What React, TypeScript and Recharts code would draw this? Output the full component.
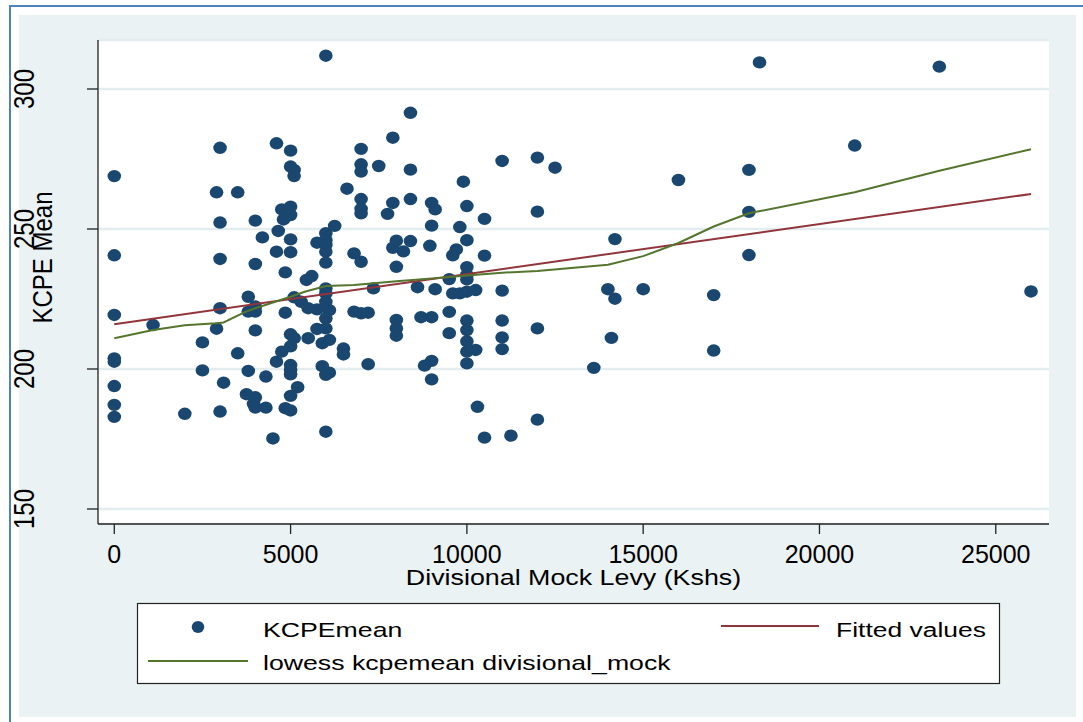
import React from 'react';
import { ScatterChart, Scatter, XAxis, YAxis, CartesianGrid } from 'recharts';

// KCPE mean vs divisional mock levy (one line per group of x values)
const kcpeX = [
  0, 0, 0, 0, 0, 0, 0, 0,
  1100, 2000, 2500, 2500, 2900, 2900,
  3000, 3000, 3000, 3000, 3000, 3100, 3500, 3500,
  3750, 3800, 3800, 3800, 3950,
  4000, 4000, 4000, 4000, 4000, 4000, 4000,
  4200, 4300, 4300, 4500, 4600, 4600, 4600, 4650,
  4750, 4750, 4800, 4850, 4850, 4850,
  5000, 5000, 5000, 5000, 5000, 5000, 5000, 5000, 5000, 5000, 5000, 5000, 5000,
  5100, 5100, 5100, 5100, 5200, 5300, 5450,
  5500, 5500, 5600, 5750, 5750, 5750, 5900, 5900,
  6000, 6000, 6000, 6000, 6000, 6000, 6000, 6000, 6000, 6000, 6000, 6000, 6000,
  6100, 6100, 6100, 6250, 6500, 6500, 6600, 6800, 6800,
  7000, 7000, 7000, 7000, 7000, 7000, 7000, 7000,
  7200, 7200, 7350, 7500, 7750, 7900, 7900, 7900,
  8000, 8000, 8000, 8000, 8000, 8200,
  8400, 8400, 8400, 8400, 8600, 8700, 8800, 8950,
  9000, 9000, 9000, 9000, 9000, 9100, 9100,
  9500, 9500, 9500, 9600, 9600, 9700, 9800, 9800, 9900,
  10000, 10000, 10000, 10000, 10000, 10000, 10000, 10000, 10000, 10000, 10000,
  10250, 10250, 10300, 10500, 10500, 10500,
  11000, 11000, 11000, 11000, 11000, 11250,
  12000, 12000, 12000, 12000, 12500, 13600, 14000, 14100, 14200, 14200,
  15000, 16000, 17000, 17000, 18000, 18000, 18000, 18300, 21000, 23400, 26000,
];
const kcpeY = [
  268.9, 240.6, 219.3, 203.8, 202.6, 193.9, 187.2, 182.9,
  215.7, 184.0, 209.5, 199.5, 263.1, 214.4,
  279.0, 252.3, 239.3, 221.7, 184.8, 195.1, 263.1, 205.6,
  191.0, 225.8, 220.5, 199.3, 187.5,
  253.0, 237.5, 222.3, 220.5, 213.8, 189.9, 186.2,
  247.0, 197.3, 186.2, 175.2, 280.6, 241.9, 202.6, 249.3,
  257.0, 206.2, 253.4, 234.5, 220.1, 186.0,
  278.0, 272.3, 258.0, 255.0, 246.3, 241.7, 212.4, 208.1, 201.4, 199.6, 198.1, 190.4, 185.2,
  271.1, 268.9, 225.6, 211.0, 193.5, 224.0, 231.8,
  221.7, 211.0, 233.2, 245.1, 221.3, 214.3, 209.2, 201.0,
  311.9, 248.5, 246.0, 244.3, 241.9, 238.0, 228.8, 227.0, 224.0, 218.1, 214.5, 197.9, 177.6,
  221.0, 210.4, 198.7, 251.1, 207.3, 205.2, 264.4, 241.3, 220.5,
  278.6, 273.1, 270.5, 260.7, 257.2, 255.6, 238.3, 219.9,
  220.1, 201.7, 228.8, 272.5, 255.4, 282.6, 259.3, 243.3,
  245.8, 236.5, 217.5, 214.5, 211.9, 242.0,
  291.5, 271.2, 260.7, 245.7, 229.2, 218.5, 201.2, 244.0,
  259.3, 251.2, 218.5, 202.9, 196.3, 257.0, 228.5,
  232.1, 220.4, 212.8, 240.6, 227.0, 242.7, 250.7, 227.0, 266.9,
  258.2, 246.0, 236.4, 233.6, 232.0, 227.6, 217.3, 213.9, 209.9, 206.2, 202.0,
  228.2, 206.8, 186.5, 253.6, 240.5, 175.5,
  274.3, 228.0, 217.3, 211.3, 207.1, 176.2,
  275.5, 256.2, 214.5, 181.9, 271.9, 200.4, 228.5, 211.1, 246.4, 225.1,
  228.5, 267.5, 226.4, 206.6, 271.1, 256.1, 240.7, 309.5, 279.8, 308.0, 227.7,
];

const fittedX = [0, 26000];
const fittedY = [216.0, 262.5];

const lowessX = [0, 1100, 2000, 2900, 3100, 3700, 4000, 5000, 5400, 6000, 6800, 8000, 9000, 10000, 11000, 12000, 14000, 15000, 16000, 17000, 18000, 21000, 23400, 26000];
const lowessY = [211.0, 213.9, 215.6, 216.3, 216.6, 220.3, 221.7, 225.8, 227.6, 229.6, 230.0, 231.3, 232.3, 233.4, 234.4, 235.0, 237.2, 240.3, 245.0, 250.9, 255.6, 263.1, 270.8, 278.5];

const xTicks = [0, 5000, 10000, 15000, 20000, 25000];
const yTicks = [150, 200, 250, 300];

const NAVY = '#1A476F';
const MAROON = '#90353B';
const GREEN = '#55752F';
const BG = '#EAF2F3';
const FONT = '"Liberation Sans", Arial, sans-serif';

const scatterData = kcpeX.map((x, i) => ({ x, y: kcpeY[i] }));
const fittedData = fittedX.map((x, i) => ({ x, y: fittedY[i] }));
const lowessData = lowessX.map((x, i) => ({ x, y: lowessY[i] }));

const Dot = (props: any) => {
  const { cx, cy } = props;
  if (cx == null || cy == null) return <g />;
  return <ellipse cx={cx} cy={cy} rx={6.8} ry={6.2} fill={NAVY} />;
};

const NoDot = () => <g />;

const YTick = (props: any) => {
  const { x, y, payload } = props;
  return (
    <text
      transform={`translate(${x - 51.5}, ${y}) rotate(-90) scale(1, 1.2)`}
      textAnchor="middle"
      fontSize={24}
      fontFamily={FONT}
      fill="#000"
    >
      {payload.value}
    </text>
  );
};

const XTick = (props: any) => {
  const { x, y, payload } = props;
  return (
    <text x={x} y={y + 27} textAnchor="middle" fontSize={25} fontFamily={FONT} fill="#000">
      {payload.value}
    </text>
  );
};

const Legend = () => (
  <svg width={1083} height={722} style={{ position: 'absolute', left: 0, top: 0, pointerEvents: 'none' }}>
    <rect x={137.5} y={603.5} width={862} height={80} fill="#fff" stroke="#222" strokeWidth={1.2} />
    <ellipse cx={198} cy={627} rx={6.3} ry={6} fill={NAVY} />
    <text transform="translate(263, 637) scale(1.27, 1)" fontSize={21} fontFamily={FONT} fill="#000">KCPEmean</text>
    <line x1={721} y1={626} x2={819} y2={626} stroke={MAROON} strokeWidth={2} />
    <text transform="translate(836, 637) scale(1.26, 1)" fontSize={21} fontFamily={FONT} fill="#000">Fitted values</text>
    <line x1={148} y1={661} x2={248} y2={661} stroke={GREEN} strokeWidth={2} />
    <text transform="translate(263, 670) scale(1.27, 1)" fontSize={21} fontFamily={FONT} fill="#000">lowess kcpemean divisional_mock</text>
  </svg>
);

export default function App() {
  return (
    <div style={{ position: 'absolute', left: 0, top: 0, width: 1083, height: 722, background: '#fff', overflow: 'hidden' }}>
      <div style={{ position: 'absolute', left: 9, top: 5, width: 1074, height: 2, background: '#4F81BD' }} />
      <div style={{ position: 'absolute', left: 9, top: 5, width: 2, height: 717, background: '#4F81BD' }} />
      <div style={{ position: 'absolute', left: 19, top: 15, width: 1057, height: 702, background: BG }} />
      <div style={{ position: 'absolute', left: 0, top: 0 }}>
        <ScatterChart
          width={1083}
          height={722}
          margin={{ top: 40, right: 34, bottom: 138, left: 38 }}
        >
          <CartesianGrid
            vertical={false}
            horizontal
            stroke="#E3ECEF"
            strokeWidth={2.5}
            fill="#fff"
            fillOpacity={1}
          />
          <XAxis
            type="number"
            dataKey="x"
            domain={[-462, 26510]}
            ticks={xTicks}
            allowDataOverflow
            height={60}
            tickSize={10}
            tick={<XTick />}
            axisLine={{ stroke: '#222', strokeWidth: 1.3 }}
            tickLine={{ stroke: '#222', strokeWidth: 1.3 }}
            label={{
              content: () => (
                <text
                  transform="translate(573.5, 585) scale(1.22, 1)"
                  textAnchor="middle"
                  fontSize={22}
                  fontFamily={FONT}
                  fill="#000"
                >
                  Divisional Mock Levy (Kshs)
                </text>
              ),
            }}
          />
          <YAxis
            type="number"
            dataKey="y"
            domain={[144.64, 317.5]}
            ticks={yTicks}
            allowDataOverflow
            width={60}
            tickSize={11}
            tick={<YTick />}
            axisLine={{ stroke: '#222', strokeWidth: 1.3 }}
            tickLine={{ stroke: '#222', strokeWidth: 1.3 }}
            label={{
              content: () => (
                <text
                  transform="translate(51.5, 257.5) rotate(-90) scale(1, 1.17)"
                  textAnchor="middle"
                  fontSize={24}
                  fontFamily={FONT}
                  fill="#000"
                >
                  KCPE Mean
                </text>
              ),
            }}
          />
          <Scatter name="KCPEmean" data={scatterData} shape={<Dot />} isAnimationActive={false} />
          <Scatter
            name="Fitted values"
            data={fittedData}
            line={{ stroke: MAROON, strokeWidth: 2 }}
            lineType="joint"
            shape={<NoDot />}
            isAnimationActive={false}
          />
          <Scatter
            name="lowess kcpemean divisional_mock"
            data={lowessData}
            line={{ stroke: GREEN, strokeWidth: 2 }}
            lineType="joint"
            shape={<NoDot />}
            isAnimationActive={false}
          />
        </ScatterChart>
      </div>
      <Legend />
    </div>
  );
}
